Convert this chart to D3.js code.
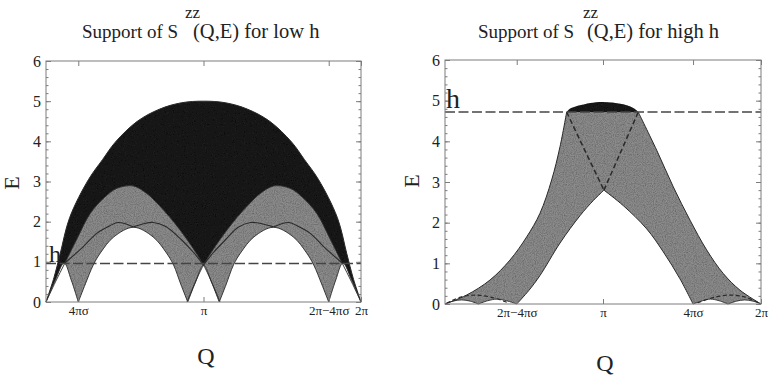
<!DOCTYPE html>
<html>
<head>
<meta charset="utf-8">
<script src="https://cdn.jsdelivr.net/npm/d3@7"></script>
<style>
  body { margin: 0; background: #fff; }
  svg { display: block; }
</style>
</head>
<body>
<svg id="chart" width="772" height="382"></svg>
<script>
// Q is given in units of pi (0..2), E in energy units.
const yTicks = [0, 1, 2, 3, 4, 5, 6];
const lowTicks = [[0.205, '4πσ'], [1, 'π'], [1.795, '2π−4πσ'], [2, '2π']];
const highTicks = [[0.454, '2π−4πσ'], [1, 'π'], [1.57, '4πσ'], [2, '2π']];

const hLow = 0.96;
const hHigh = 4.72;

// low h: outer (dark) boundary
const lowOuter = [[0, 0], [0.05, 0.6], [0.09, 1.2], [0.15, 2.1], [0.27, 3.05], [0.36, 3.55], [0.44, 3.98],
  [0.58, 4.5], [0.72, 4.8], [0.86, 4.96], [1, 5.0], [1.14, 4.96], [1.28, 4.8], [1.42, 4.5], [1.56, 3.98],
  [1.64, 3.55], [1.73, 3.05], [1.85, 2.1], [1.91, 1.2], [1.95, 0.6], [2, 0]];

// low h: the two grey lobes
const lowUpperL = [[0, 0], [0.06, 0.5], [0.12, 0.97], [0.2, 1.6], [0.28, 2.2], [0.37, 2.6], [0.45, 2.83],
  [0.554, 2.89], [0.64, 2.7], [0.72, 2.4], [0.85, 1.8], [1.0, 0.92], [1.105, 0]];
const lowUpperR = [[0.895, 0], [1.0, 0.92], [1.15, 1.8], [1.28, 2.4], [1.36, 2.7], [1.446, 2.89], [1.55, 2.83],
  [1.63, 2.6], [1.72, 2.2], [1.8, 1.6], [1.88, 0.97], [1.94, 0.5], [2, 0]];

// low h: lower boundary, one arch between each pair of zeros
const lowGap0 = [[0, 0], [0.06, 0.55], [0.115, 0.97], [0.16, 0.55], [0.205, 0]];
const lowGap1 = [[0.205, 0], [0.25, 0.45], [0.3, 0.92], [0.345, 1.22], [0.43, 1.62], [0.556, 1.86],
  [0.68, 1.62], [0.765, 1.22], [0.81, 0.92], [0.855, 0.45], [0.9, 0]];
const lowGap2 = [[0.9, 0], [0.95, 0.5], [1.0, 0.92], [1.05, 0.5], [1.1, 0]];
const lowGap3 = [[1.1, 0], [1.145, 0.45], [1.19, 0.92], [1.235, 1.22], [1.32, 1.62], [1.444, 1.86],
  [1.57, 1.62], [1.655, 1.22], [1.7, 0.92], [1.75, 0.45], [1.795, 0]];
const lowGap4 = [[1.795, 0], [1.84, 0.55], [1.885, 0.97], [1.94, 0.55], [2, 0]];

// low h: thin solid arcs inside the grey lobes
const lowThin1 = [[0.12, 0.97], [0.237, 1.38], [0.322, 1.71], [0.406, 1.9], [0.46, 1.98], [0.556, 1.87]];
const lowThin2 = [[0.556, 1.87], [0.62, 1.95], [0.68, 1.98], [0.76, 1.88], [0.86, 1.55], [0.94, 1.22], [1.0, 0.92]];
const lowThin3 = [[1.0, 0.92], [1.06, 1.22], [1.14, 1.55], [1.22, 1.86], [1.3, 1.98], [1.37, 1.95], [1.444, 1.87]];
const lowThin4 = [[1.444, 1.87], [1.54, 1.98], [1.594, 1.9], [1.678, 1.71], [1.763, 1.38], [1.88, 0.97]];

// high h: grey band
const highOuterL = [[0, 0], [0.137, 0.22], [0.285, 0.59], [0.411, 1.08], [0.517, 1.65], [0.601, 2.23],
  [0.675, 3.05], [0.728, 3.87], [0.77, 4.72]];
const highOuterR = [[1.223, 4.72], [1.34, 3.78], [1.445, 2.88], [1.551, 2.06], [1.656, 1.33], [1.761, 0.75],
  [1.867, 0.34], [2, 0]];
const highInnerL = [[0.454, 0], [0.53, 0.33], [0.601, 0.7], [0.728, 1.5], [0.854, 2.17], [0.94, 2.55], [1.006, 2.8]];
const highInnerR = [[1.006, 2.8], [1.128, 2.42], [1.276, 1.85], [1.382, 1.28], [1.487, 0.62], [1.57, 0]];
const highCap = [[0.77, 4.72], [0.79, 4.8], [0.854, 4.89], [0.992, 4.97], [1.128, 4.91], [1.2, 4.8], [1.223, 4.72]];
const highBump1 = [[0, 0], [0.05, 0.07], [0.105, 0.1], [0.16, 0.07], [0.211, 0]];
const highBump2 = [[0.211, 0], [0.27, 0.08], [0.33, 0.12], [0.39, 0.08], [0.454, 0]];
const highBump3 = [[1.57, 0], [1.63, 0.08], [1.68, 0.12], [1.735, 0.08], [1.791, 0]];
const highBump4 = [[1.791, 0], [1.845, 0.07], [1.895, 0.1], [1.95, 0.07], [2, 0]];
const highDashL = [[0.77, 4.72], [0.854, 4.03], [1.006, 2.8]];
const highDashR = [[1.006, 2.8], [1.108, 3.7], [1.223, 4.72]];
const highDashArc1 = [[0.01, 0.02], [0.1, 0.17], [0.19, 0.22], [0.29, 0.17], [0.4, 0.03]];
const highDashArc2 = [[1.6, 0.03], [1.71, 0.17], [1.81, 0.22], [1.9, 0.17], [1.99, 0.02]];

const DARK = '#1e1e1e';
const GREY = '#8c8c8c';
const INK = '#2a2a2a';
const FRAME = '#7c7c7c';
const SERIF = '"Liberation Serif", "Times New Roman", Times, "DejaVu Serif", serif';

const svg = d3.select('#chart').attr('font-family', SERIF);
const curve = d3.curveCatmullRom.alpha(0.5);

// grain like the scanned print
const defs = svg.append('defs');
const grain = defs.append('filter').attr('id', 'grain');
grain.append('feTurbulence')
  .attr('type', 'fractalNoise').attr('baseFrequency', 0.9).attr('numOctaves', 2).attr('seed', 4)
  .attr('result', 'noise');
grain.append('feColorMatrix')
  .attr('in', 'noise').attr('type', 'matrix')
  .attr('values', '0 0 0 0 0  0 0 0 0 0  0 0 0 0 0  0.9 0 0 0 -0.3')
  .attr('result', 'dots');
grain.append('feComposite').attr('in', 'dots').attr('in2', 'SourceGraphic').attr('operator', 'in').attr('result', 'clip');
const merge = grain.append('feMerge');
merge.append('feMergeNode').attr('in', 'SourceGraphic');
merge.append('feMergeNode').attr('in', 'clip');


function makeLine(x, y) {

  return d3.line()
    .x(function(d) { return x(d[0]); })
    .y(function(d) { return y(d[1]); })
    .curve(curve);
}


function join(line, parts) {

  return parts.map(function(p, i) {
    const s = line(p);
    return i ? s.replace(/^M/, 'L') : s;
  }).join('');
}


function fill(g, d, color, textured) {

  return g.append('path')
    .attr('d', d)
    .attr('fill', color)
    .attr('stroke', 'none')
    .attr('filter', textured ? 'url(#grain)' : null);
}


function stroke(g, d, width, dash) {

  return g.append('path')
    .attr('d', d)
    .attr('fill', 'none')
    .attr('stroke', INK)
    .attr('stroke-width', width)
    .attr('stroke-dasharray', dash || null);
}


function txt(x, y, size, s) {

  return svg.append('text')
    .attr('x', x).attr('y', y)
    .attr('font-family', SERIF)
    .attr('font-size', size)
    .attr('fill', '#222')
    .text(s);
}


function frame(g, x, y, ticks) {

  const minor = d3.range(0, 6.001, 0.2);
  const qs = ticks.map(function(t) { return t[0]; });

  const axes = [
    [d3.axisLeft(y).tickValues(minor).tickSize(-2.5).tickFormat(''), x.range()[0], 0],
    [d3.axisRight(y).tickValues(minor).tickSize(-2.5).tickFormat(''), x.range()[1], 0],
    [d3.axisRight(y).tickValues(yTicks).tickSize(-5).tickFormat(''), x.range()[1], 0],
    [d3.axisTop(x).tickValues(qs).tickSize(-5).tickFormat(''), 0, y.range()[1]]
  ];
  axes.forEach(function(a) {
    g.append('g').attr('transform', 'translate(' + a[1] + ',' + a[2] + ')').call(a[0]);
  });

  g.append('g')
    .attr('class', 'yaxis')
    .attr('transform', 'translate(' + x.range()[0] + ',0)')
    .call(d3.axisLeft(y).tickValues(yTicks).tickSize(-5).tickPadding(5).tickFormat(d3.format('d')));

  g.append('g')
    .attr('class', 'xaxis')
    .attr('transform', 'translate(0,' + y.range()[0] + ')')
    .call(d3.axisBottom(x)
      .tickValues(qs)
      .tickSize(-5)
      .tickPadding(4)
      .tickFormat(function(d) {
        return ticks.find(function(t) { return t[0] === d; })[1];
      }));

  g.selectAll('.domain').remove();
  g.selectAll('g').attr('font-family', SERIF);
  g.selectAll('.tick line').attr('stroke', FRAME);
  g.selectAll('.yaxis').attr('font-size', 16);
  g.selectAll('.xaxis').attr('font-size', 13);
  g.selectAll('.tick text').attr('fill', '#222');

  g.append('rect')
    .attr('x', x.range()[0])
    .attr('y', y.range()[1])
    .attr('width', x.range()[1] - x.range()[0])
    .attr('height', y.range()[0] - y.range()[1])
    .attr('fill', 'none')
    .attr('stroke', FRAME)
    .attr('stroke-width', 1);
}


function hLine(g, x, y, h) {

  g.append('line')
    .attr('x1', x.range()[0]).attr('x2', x.range()[1])
    .attr('y1', y(h)).attr('y2', y(h))
    .attr('stroke', '#454545')
    .attr('stroke-width', 1.4)
    .attr('stroke-dasharray', '10,3.5');
}


function title(x0, xs, x1, rest) {

  txt(x0, 38, 19, 'Support of S');
  txt(xs, 18, 17, 'zz');
  txt(x1, 38, 20.5, rest);
}


function label(xE, yE, xQ, yQ) {

  svg.append('text')
    .attr('transform', 'translate(' + xE + ',' + yE + ') rotate(-90)')
    .attr('text-anchor', 'middle')
    .attr('font-family', SERIF)
    .attr('font-size', 22)
    .attr('fill', '#222')
    .text('E');
  txt(xQ, yQ, 24, 'Q').attr('text-anchor', 'middle');
}


function drawLow() {

  const x = d3.scaleLinear().domain([0, 2]).range([46, 361]);
  const y = d3.scaleLinear().domain([0, 6]).range([302, 61]);
  const line = makeLine(x, y);
  const g = svg.append('g');

  fill(g, line(lowOuter) + 'Z', DARK, true);
  fill(g, line(lowUpperL) + 'Z', GREY, true);
  fill(g, line(lowUpperR) + 'Z', GREY, true);
  [lowGap0, lowGap1, lowGap2, lowGap3, lowGap4].forEach(function(a) {
    fill(g, line(a) + 'Z', '#fff');
  });

  stroke(g, line(lowOuter), 1);
  stroke(g, line(lowUpperL), 0.9);
  stroke(g, line(lowUpperR), 0.9);
  [lowGap0, lowGap1, lowGap2, lowGap3, lowGap4].forEach(function(a) {
    stroke(g, line(a), 0.9);
  });
  [lowThin1, lowThin2, lowThin3, lowThin4].forEach(function(a) {
    stroke(g, line(a), 1.1);
  });

  hLine(g, x, y, hLow);
  frame(g, x, y, lowTicks);

  txt(49, 262, 24, 'h');
  title(82, 185, 193, '(Q,E) for low h');
  label(19, 183, 206, 364);
}


function drawHigh() {

  const x = d3.scaleLinear().domain([0, 2]).range([445, 761]);
  const y = d3.scaleLinear().domain([0, 6]).range([304, 60]);
  const line = makeLine(x, y);
  const g = svg.append('g');

  fill(g, join(line, [highOuterL, highOuterR]) + 'Z', GREY, true);
  fill(g, join(line, [highInnerL, highInnerR]) + 'Z', '#fff');
  [highBump1, highBump2, highBump3, highBump4].forEach(function(a) {
    fill(g, line(a) + 'Z', '#fff');
  });
  fill(g, line(highCap) + 'Z', DARK, true);

  stroke(g, line(highOuterL), 1);
  stroke(g, line(highOuterR), 1);
  stroke(g, join(line, [highInnerL, highInnerR]), 1);
  [highBump1, highBump2, highBump3, highBump4].forEach(function(a) {
    stroke(g, line(a), 0.9);
  });
  [highDashL, highDashR].forEach(function(a) {
    stroke(g, line(a), 1.5, '5,3');
  });
  [highDashArc1, highDashArc2].forEach(function(a) {
    stroke(g, line(a), 1.2, '4,2.5');
  });

  hLine(g, x, y, hHigh);
  frame(g, x, y, highTicks);

  txt(446, 108, 28, 'h');
  title(478, 583, 587, '(Q,E) for high h');
  label(419, 181, 605, 371);
}


drawLow();
drawHigh();
</script>
</body>
</html>
